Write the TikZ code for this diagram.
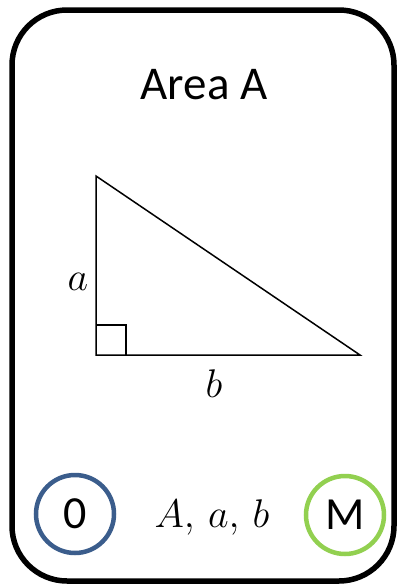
\RequirePackage{fix-cm}
\documentclass[tikz,border=0pt]{standalone}
\usepackage{fontspec}
\setmainfont{Carlito}
\begin{document}
\begin{tikzpicture}[x=1pt,y=-1pt,
  tri/.style={line width=1.5pt},
  ring/.style={circle, line width=4.5pt, minimum size=78pt, inner sep=0pt, font=\fontsize{46}{50}\selectfont},
  lbl/.style={anchor=base, inner sep=0pt, font=\fontsize{40}{44}\selectfont}]
\useasboundingbox (0,0) rectangle (402,587);
\draw[line width=5.5pt, rounded corners=55pt] (12,10) rectangle (394,581);
\node[anchor=base, inner sep=0pt, font=\fontsize{47}{52}\selectfont] (title) at (204,99) {Area A};
\coordinate (T) at (96,176);
\coordinate (C) at (96,355);
\coordinate (R) at (360,355);
\draw[tri] (T) -- (C) -- (R) -- cycle;
\draw[line width=1.3pt] (96,325) -- (126,325) -- (126,355);
\node[lbl] (la) at (78,290) {$a$};
\node[lbl] (lb) at (214,397) {$b$};
\node[ring, draw={rgb,255:red,59;green,93;blue,140}] (zero) at (75,514) {\raisebox{-1pt}{0}};
\node[lbl] (vars) at (212,527) {$A,\,a,\,b$};
\node[ring, draw={rgb,255:red,146;green,208;blue,80}] (m) at (345,515) {\raisebox{-1pt}{M}};
\end{tikzpicture}
\end{document}
